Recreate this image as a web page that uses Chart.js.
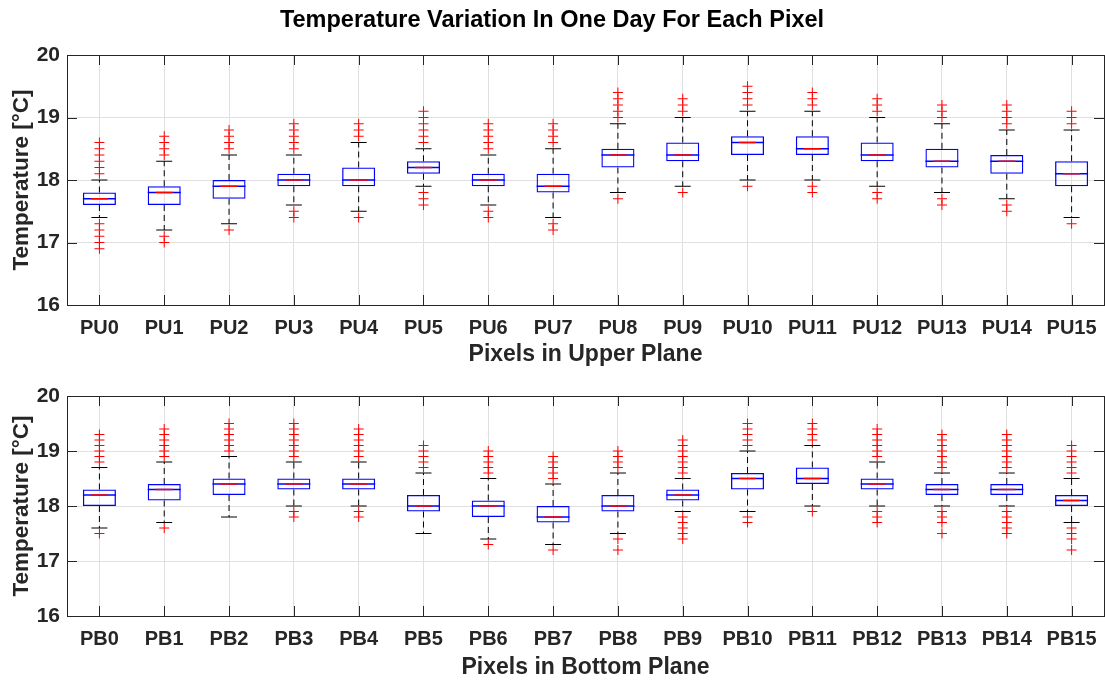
<!DOCTYPE html>
<html>
<head>
<meta charset="utf-8">
<script src="https://cdn.jsdelivr.net/npm/chart.js@4.4.1/dist/chart.umd.min.js"></script>
<style>
  body { margin: 0; background: #fff; }
  .wrap { position: absolute; left: 0; width: 1105px; }
</style>
</head>
<body>
<div class="wrap" style="top:0;height:370px"><canvas id="upperChart" width="1105" height="370"></canvas></div>
<div class="wrap" style="top:370px;height:313px"><canvas id="bottomChart" width="1105" height="313"></canvas></div>
<script>
// upper plane
const upperLabels = ["PU0","PU1","PU2","PU3","PU4","PU5","PU6","PU7","PU8","PU9","PU10","PU11","PU12","PU13","PU14","PU15"];
const upperMedian = [17.7, 17.8, 17.9, 18.0, 18.0, 18.2, 18.0, 17.9, 18.4, 18.4, 18.6, 18.5, 18.4, 18.3, 18.3, 18.1];
const upperQ1     = [17.6, 17.6, 17.7, 17.9, 17.9, 18.1, 17.9, 17.8, 18.2, 18.3, 18.4, 18.4, 18.3, 18.2, 18.1, 17.9];
const upperQ3     = [17.8, 17.9, 18.0, 18.1, 18.2, 18.3, 18.1, 18.1, 18.5, 18.6, 18.7, 18.7, 18.6, 18.5, 18.4, 18.3];
const upperLow    = [17.4, 17.2, 17.3, 17.6, 17.5, 17.9, 17.6, 17.4, 17.8, 17.9, 18.0, 18.0, 17.9, 17.8, 17.7, 17.4];
const upperHigh   = [18.0, 18.3, 18.4, 18.4, 18.6, 18.5, 18.4, 18.5, 18.9, 19.0, 19.1, 19.1, 19.0, 18.9, 18.8, 18.8];
const upperOutliers = [
  [18.1, 18.2, 18.3, 18.4, 18.5, 18.6, 17.3, 17.2, 17.1, 17.0, 16.9],
  [18.4, 18.5, 18.6, 18.7, 17.1, 17.0],
  [18.5, 18.6, 18.7, 18.8, 17.2],
  [18.5, 18.6, 18.7, 18.8, 18.9, 17.5, 17.4],
  [18.7, 18.8, 18.9, 17.4],
  [18.6, 18.7, 18.8, 18.9, 19.0, 19.1, 17.8, 17.7, 17.6],
  [18.5, 18.6, 18.7, 18.8, 18.9, 17.5, 17.4],
  [18.6, 18.7, 18.8, 18.9, 17.3, 17.2],
  [19.0, 19.1, 19.2, 19.3, 19.4, 17.7],
  [19.1, 19.2, 19.3, 17.8],
  [19.2, 19.3, 19.4, 19.5, 17.9],
  [19.2, 19.3, 19.4, 17.9, 17.8],
  [19.1, 19.2, 19.3, 17.8, 17.7],
  [19.0, 19.1, 19.2, 17.7, 17.6],
  [18.9, 19.0, 19.1, 19.2, 17.6, 17.5],
  [18.9, 19.0, 19.1, 17.3]
];

// bottom plane
const bottomLabels = ["PB0","PB1","PB2","PB3","PB4","PB5","PB6","PB7","PB8","PB9","PB10","PB11","PB12","PB13","PB14","PB15"];
const bottomMedian = [18.2, 18.3, 18.4, 18.4, 18.4, 18.0, 18.0, 17.8, 18.0, 18.2, 18.5, 18.5, 18.4, 18.3, 18.3, 18.1];
const bottomQ1     = [18.0, 18.1, 18.2, 18.3, 18.3, 17.9, 17.8, 17.7, 17.9, 18.1, 18.3, 18.4, 18.3, 18.2, 18.2, 18.0];
const bottomQ3     = [18.3, 18.4, 18.5, 18.5, 18.5, 18.2, 18.1, 18.0, 18.2, 18.3, 18.6, 18.7, 18.5, 18.4, 18.4, 18.2];
const bottomLow    = [17.6, 17.7, 17.8, 18.0, 18.0, 17.5, 17.4, 17.3, 17.5, 17.9, 17.9, 18.0, 18.0, 18.0, 18.0, 17.7];
const bottomHigh   = [18.7, 18.8, 18.9, 18.8, 18.8, 18.6, 18.5, 18.4, 18.6, 18.5, 19.0, 19.1, 18.8, 18.6, 18.6, 18.5];
const bottomOutliers = [
  [18.8, 18.9, 19.0, 19.1, 19.2, 19.3, 17.5],
  [18.9, 19.0, 19.1, 19.2, 19.3, 19.4, 17.6],
  [19.0, 19.1, 19.2, 19.3, 19.4, 19.5],
  [18.9, 19.0, 19.1, 19.2, 19.3, 19.4, 19.5, 17.9, 17.8],
  [18.9, 19.0, 19.1, 19.2, 19.3, 19.4, 17.9, 17.8],
  [18.7, 18.8, 18.9, 19.0, 19.1],
  [18.6, 18.7, 18.8, 18.9, 19.0, 17.3],
  [18.5, 18.6, 18.7, 18.8, 18.9, 17.2],
  [18.7, 18.8, 18.9, 19.0, 17.4, 17.2],
  [18.6, 18.7, 18.8, 18.9, 19.0, 19.1, 19.2, 17.8, 17.7, 17.6, 17.5, 17.4],
  [19.1, 19.2, 19.3, 19.4, 19.5, 17.8, 17.7],
  [19.2, 19.3, 19.4, 19.5, 17.9],
  [18.9, 19.0, 19.1, 19.2, 19.3, 19.4, 17.9, 17.8, 17.7],
  [18.7, 18.8, 18.9, 19.0, 19.1, 19.2, 19.3, 17.9, 17.8, 17.7, 17.5],
  [18.7, 18.8, 18.9, 19.0, 19.1, 19.2, 19.3, 17.9, 17.8, 17.7, 17.6, 17.5],
  [18.6, 18.7, 18.8, 18.9, 19.0, 19.1, 17.6, 17.5, 17.4, 17.2]
];

const yTicks = [16, 17, 18, 19, 20];

const FONT = "'Liberation Sans', Arial, sans-serif";
const AXIS_COLOR = "#262626";
const GRID_COLOR = "#e0e0e0";

// box outline + inward tick marks like matlab
const framePlugin = {
  id: "frame",
  afterDraw(chart) {
    const { ctx, chartArea: a, scales } = chart;
    const len = 10;
    ctx.save();
    ctx.strokeStyle = AXIS_COLOR;
    ctx.lineWidth = 1;
    ctx.beginPath();
    scales.x.ticks.forEach((t, i) => {
      const px = Math.round(scales.x.getPixelForTick(i)) + 0.5;
      ctx.moveTo(px, a.bottom); ctx.lineTo(px, a.bottom - len);
      ctx.moveTo(px, a.top); ctx.lineTo(px, a.top + len);
    });
    scales.y.ticks.forEach((t, i) => {
      const py = Math.round(scales.y.getPixelForTick(i)) + 0.5;
      ctx.moveTo(a.left, py); ctx.lineTo(a.left + len, py);
      ctx.moveTo(a.right, py); ctx.lineTo(a.right - len, py);
    });
    ctx.stroke();
    ctx.strokeRect(Math.round(a.left) + 0.5, Math.round(a.top) + 0.5,
      Math.round(a.right - a.left), Math.round(a.bottom - a.top));
    ctx.restore();
  }
};

function boxPlot(canvasId, labels, q1, med, q3, lo, hi, outliers, xTitle, opts) {
  const whiskers = [];
  const caps = [];
  const points = [];
  labels.forEach((lab, i) => {
    whiskers.push({ x: lab, y: q3[i] }, { x: lab, y: hi[i] }, { x: lab, y: null });
    whiskers.push({ x: lab, y: q1[i] }, { x: lab, y: lo[i] }, { x: lab, y: null });
    caps.push({ x: lab, y: hi[i] }, { x: lab, y: lo[i] });
    outliers[i].forEach(v => points.push({ x: lab, y: v }));
  });
  const medians = labels.map((lab, i) => ({ x: lab, y: med[i] }));

  // lower order is drawn on top
  const markLine = (data, color, r, style, order, w) => ({
    type: "line", data, showLine: false, pointStyle: style, pointRadius: r, order,
    pointBorderColor: color, pointBackgroundColor: color, pointBorderWidth: w || 1, borderColor: color
  });

  return new Chart(document.getElementById(canvasId), {
    type: "bar",
    data: {
      labels,
      datasets: [
        {
          type: "line", data: whiskers, borderColor: "#000", borderWidth: 1, order: 6,
          borderDash: [6, 4], pointRadius: 0, spanGaps: false
        },
        markLine(caps, "#000", 8, "line", 5),
        {
          data: labels.map((_, i) => [q1[i], q3[i]]), order: 4,
          backgroundColor: "rgba(0,0,0,0)", borderColor: "#0000ff", borderWidth: 1.3,
          borderSkipped: false, barPercentage: 0.51, categoryPercentage: 1
        },
        markLine(medians, "#0000ff", 16.5, "line", 3, 1.3),
        markLine(medians, "#ff0000", 8.5, "line", 2, 1.3),
        markLine(points, "#ff0000", 5, "cross", 1)
      ]
    },
    options: {
      responsive: false,
      animation: false,
      events: [],
      layout: { autoPadding: false, padding: { top: opts.padTop, right: 1, left: 0, bottom: 0 } },
      plugins: {
        legend: { display: false },
        tooltip: { enabled: false },
        title: opts.title ? {
          display: true, text: opts.title, color: "#000",
          font: { family: FONT, size: 23.5, weight: "bold" },
          padding: { top: 6, bottom: 20.8 }
        } : { display: false }
      },
      scales: {
        x: {
          type: "category", offset: true,
          grid: { offset: false, color: GRID_COLOR, drawTicks: false },
          border: { display: false },
          ticks: { color: AXIS_COLOR, font: { family: FONT, size: 20, weight: "bold" },
                   padding: 11, maxRotation: 0, autoSkip: false },
          title: { display: true, text: xTitle, color: AXIS_COLOR,
                   font: { family: FONT, size: 23, weight: "bold" }, padding: { top: 0, bottom: 2 } },
          afterFit: s => { s.height = opts.xHeight; s.paddingLeft = 0; s.paddingRight = 0; }
        },
        y: {
          min: yTicks[0], max: yTicks[yTicks.length - 1],
          afterBuildTicks: s => { s.ticks = yTicks.map(v => ({ value: v })); },
          grid: { color: GRID_COLOR, drawTicks: false },
          border: { display: false },
          ticks: { color: AXIS_COLOR, font: { family: FONT, size: 21, weight: "bold" }, padding: 7 },
          title: { display: true, text: "Temperature [°C]", color: AXIS_COLOR,
                   font: { family: FONT, size: 22.5, weight: "bold" }, padding: { top: 8, bottom: 0 } },
          afterFit: s => { s.width = 67; s.paddingTop = 0; s.paddingBottom = 0; }
        }
      }
    },
    plugins: [framePlugin]
  });
}

boxPlot("upperChart", upperLabels, upperQ1, upperMedian, upperQ3, upperLow, upperHigh, upperOutliers,
  "Pixels in Upper Plane", { title: "Temperature Variation In One Day For Each Pixel", padTop: 0, xHeight: 65 });
boxPlot("bottomChart", bottomLabels, bottomQ1, bottomMedian, bottomQ3, bottomLow, bottomHigh, bottomOutliers,
  "Pixels in Bottom Plane", { padTop: 26, xHeight: 67 });
</script>
</body>
</html>
